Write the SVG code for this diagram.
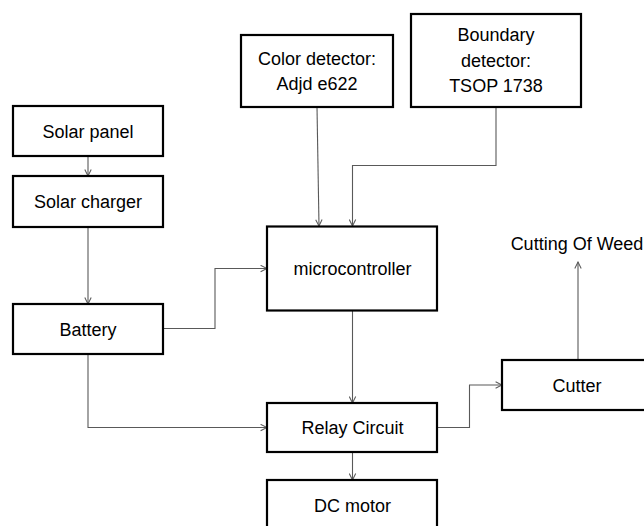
<svg xmlns="http://www.w3.org/2000/svg" width="644" height="526" viewBox="0 0 644 526">
<defs>
<style>
.box{fill:#fff;stroke:#000;stroke-width:2.2}
.lbl{font-family:"Liberation Sans",Arial,sans-serif;font-size:18px;fill:#000;text-anchor:middle}
.con{fill:none;stroke:#595959;stroke-width:1.1}
</style>
<marker id="arr" viewBox="0 0 10 10" refX="9" refY="5" markerWidth="8" markerHeight="8" markerUnits="userSpaceOnUse" orient="auto">
<path d="M1,1 L9,5 L1,9" fill="none" stroke="#595959" stroke-width="1.3"/>
</marker>
</defs>
<rect width="644" height="526" fill="#fff"/>
<g id="connectors">
<path class="con" d="M88,156 V176" marker-end="url(#arr)"/>
<path class="con" d="M88,227 V304" marker-end="url(#arr)"/>
<path class="con" d="M164,328.5 H215 V268.5 H267" marker-end="url(#arr)"/>
<path class="con" d="M88,354 V427.5 H267" marker-end="url(#arr)"/>
<path class="con" d="M317,107 L319,226" marker-end="url(#arr)"/>
<path class="con" d="M496,107 V165.5 H352.5 V226" marker-end="url(#arr)"/>
<path class="con" d="M352.5,311 V403" marker-end="url(#arr)"/>
<path class="con" d="M352.5,452 V480" marker-end="url(#arr)"/>
<path class="con" d="M438,427.5 H469.5 V385 H502" marker-end="url(#arr)"/>
<path class="con" d="M578,360 V262" marker-end="url(#arr)"/>
</g>
<g id="solar-panel">
<rect class="box" x="13" y="106" width="150" height="50"/>
<text class="lbl" x="88" y="137.5">Solar panel</text>
</g>
<g id="solar-charger">
<rect class="box" x="13" y="176" width="150" height="51"/>
<text class="lbl" x="88" y="208">Solar charger</text>
</g>
<g id="battery">
<rect class="box" x="13" y="304" width="150" height="50"/>
<text class="lbl" x="88" y="335.5">Battery</text>
</g>
<g id="color-detector">
<rect class="box" x="241" y="35" width="152" height="72"/>
<text class="lbl" x="317" y="65">Color detector:</text>
<text class="lbl" x="317" y="90">Adjd e622</text>
</g>
<g id="boundary-detector">
<rect class="box" x="411" y="14" width="170" height="93"/>
<text class="lbl" x="496" y="41">Boundary</text>
<text class="lbl" x="496" y="66.5">detector:</text>
<text class="lbl" x="496" y="92">TSOP 1738</text>
</g>
<g id="microcontroller">
<rect class="box" x="267" y="226.5" width="170" height="84"/>
<text class="lbl" x="352.5" y="275">microcontroller</text>
</g>
<g id="relay-circuit">
<rect class="box" x="267" y="403" width="170" height="49"/>
<text class="lbl" x="352.5" y="434">Relay Circuit</text>
</g>
<g id="dc-motor">
<rect class="box" x="267" y="480" width="170" height="60"/>
<text class="lbl" x="352.5" y="512">DC motor</text>
</g>
<g id="cutter">
<rect class="box" x="502" y="360" width="150" height="50"/>
<text class="lbl" x="577" y="391.5">Cutter</text>
</g>
<g id="cutting-of-weed">
<text class="lbl" x="577" y="250">Cutting Of Weed</text>
</g>
</svg>
